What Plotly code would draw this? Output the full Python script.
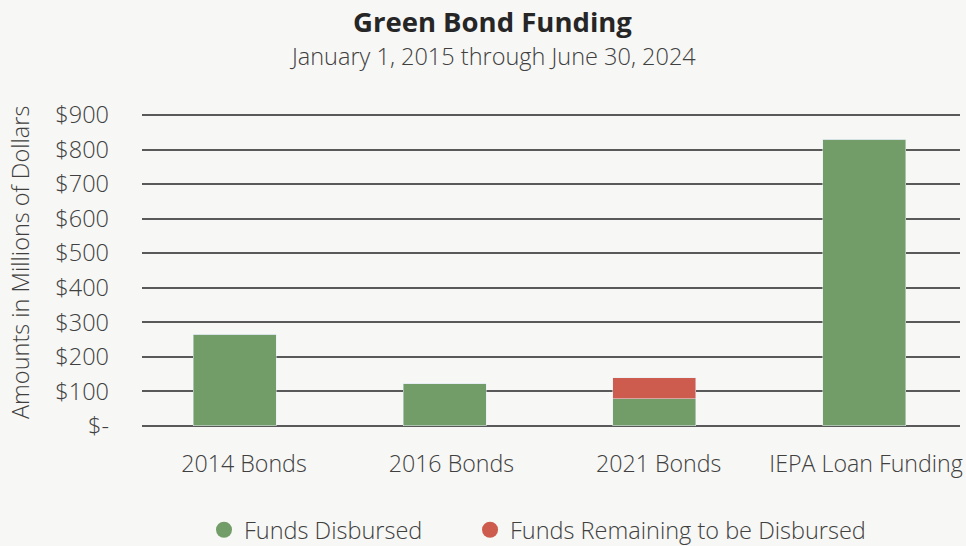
import plotly.graph_objects as go

categories = ["2014 Bonds", "2016 Bonds", "2021 Bonds", "IEPA Loan Funding"]
disbursed = [266, 122, 78, 830]
remaining = [0, 0, 61, 0]
tick_vals = [0, 100, 200, 300, 400, 500, 600, 700, 800, 900]
tick_text = ["$-", "$100", "$200", "$300", "$400", "$500", "$600", "$700", "$800", "$900"]
series_names = ["Funds Disbursed", "Funds Remaining to be Disbursed"]

GREEN = "#739d68"
RED = "#cd5c4f"
BG = "#f7f7f5"
TXT = "#404040"
FONT = "Open Sans"
FS = 23.5

fig = go.Figure()
fig.add_trace(go.Bar(x=categories, y=disbursed, marker_color=GREEN, name=series_names[0],
                     showlegend=False, hoverinfo="y"))
fig.add_trace(go.Bar(x=categories, y=remaining, marker_color=RED, name=series_names[1],
                     showlegend=False, hoverinfo="y"))
# invisible trace carrying the category labels on the label axis
fig.add_trace(go.Scatter(x=categories, y=[None] * len(categories), xaxis="x2",
                         mode="markers", showlegend=False, hoverinfo="skip"))
legend_names = [series_names[0] + "\u00a0" * 7, series_names[1]]
for nm, col in zip(legend_names, [GREEN, RED]):
    fig.add_trace(go.Scatter(x=[None], y=[None], mode="markers", name=nm,
                             marker=dict(symbol="circle", size=18, color=col)))

fig.update_layout(
    barmode="stack",
    bargap=0.605,
    width=966, height=546,
    paper_bgcolor=BG, plot_bgcolor=BG,
    margin=dict(l=142, r=6, t=113, b=118, autoexpand=False),
    font=dict(family=FONT, color=TXT, size=FS),
    showlegend=True,
    legend=dict(orientation="h", traceorder="normal", xref="container", x=204 / 966,
                xanchor="left", yref="container", y=16 / 546, yanchor="middle",
                font=dict(family=FONT, size=FS, color=TXT, weight=300),
                bgcolor="rgba(0,0,0,0)", itemwidth=30),
    xaxis=dict(type="category", range=[-0.4414, 3.4557], showgrid=False, zeroline=False,
               showline=False, ticks="", showticklabels=False),
    xaxis2=dict(type="category", overlaying="x", anchor="y", side="bottom",
                categoryorder="array", categoryarray=categories,
                range=[-0.492, 3.453], showgrid=False, zeroline=False,
                showline=False, ticks="", ticklabelstandoff=20,
                tickfont=dict(family=FONT, size=23.2, color=TXT, weight=300)),
    yaxis=dict(range=[-6, 906], tickvals=tick_vals, ticktext=tick_text,
               showgrid=True, gridcolor="#595959", gridwidth=1.5, zeroline=False,
               showline=False, ticks="", ticklabelstandoff=32,
               tickfont=dict(family=FONT, size=FS, color=TXT, weight=300)),
    annotations=[
        dict(text="<b>Green Bond Funding</b>", xref="paper", yref="paper",
             x=0.428, y=(428 - 22) / 315, xanchor="center", yanchor="middle",
             showarrow=False, font=dict(family=FONT, size=27.5, color="#262626")),
        dict(text="January 1, 2015 through June 30, 2024", xref="paper", yref="paper",
             x=0.428, y=(428 - 56) / 315, xanchor="center", yanchor="middle",
             showarrow=False, font=dict(family=FONT, size=FS, color=TXT, weight=300)),
        dict(text="Amounts in Millions of Dollars", xref="paper", yref="paper",
             x=(20 - 142) / 818, y=(428 - 263) / 315, xanchor="center", yanchor="middle",
             textangle=-90, showarrow=False,
             font=dict(family=FONT, size=FS, color=TXT, weight=300)),
    ],
)

fig.write_html("out.html")
